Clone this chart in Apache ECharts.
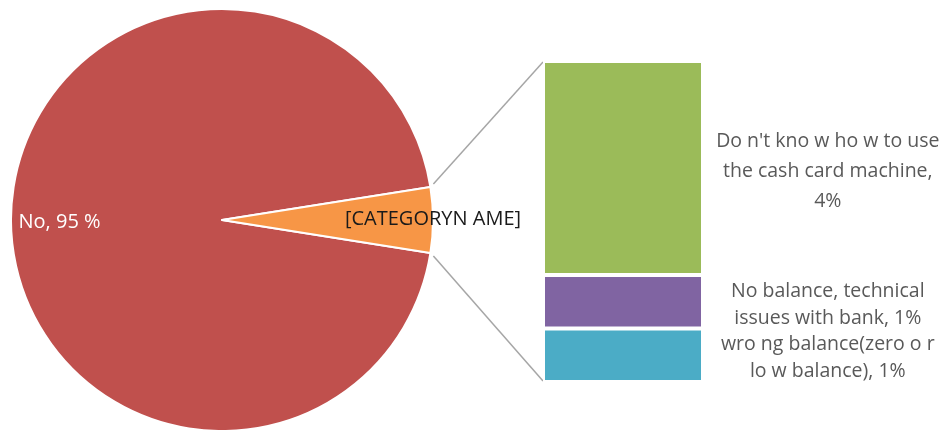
<!DOCTYPE html>
<html>
<head>
<meta charset="utf-8">
<script src="https://cdn.jsdelivr.net/npm/echarts@6/dist/echarts.min.js"></script>
<style>
  html, body { margin: 0; padding: 0; background: #ffffff; }
  #chart { width: 948px; height: 430px; }
</style>
</head>
<body>
<div id="chart"></div>
<script>
// Main pie: share of respondents
const pieNames = ['No, 95 %', '[CATEGORYN AME]'];
const pieValues = [95, 5];
const pieColors = ['#C0504D', '#F79646'];

// Breakdown of the small slice, drawn as a stacked column (bottom to top)
const barNames = ['wro ng balance(zero o r\nlo w balance), 1%',
                  'No balance, technical\nissues with bank, 1%',
                  'Do n\'t kno w ho w to use\nthe cash card machine,\n4%'];
const barValues = [1, 1, 4];
const barColors = ['#4BACC6', '#8064A2', '#9BBB59'];

const FONT = '"Open Sans", "Liberation Sans", sans-serif';
const pieCenter = [222, 220];
const pieRadius = 211;
const smallShare = pieValues[1] / pieValues.reduce((a, b) => a + b, 0);
const halfAngle = smallShare * 180;           // degrees either side of 3 o'clock
const barGrid = { left: 543, top: 61, width: 160, height: 321 };
const barTotal = barValues.reduce((a, b) => a + b, 0);

// where the pie labels sit, as fractions of the radius from the centre
const labelRadius = [-0.77, 1.0];

const chart = echarts.init(document.getElementById('chart'), null, { renderer: 'canvas' });

const option = {
  backgroundColor: '#ffffff',
  animation: false,
  grid: Object.assign({ containLabel: false }, barGrid),
  xAxis: { type: 'category', data: ['breakdown'], show: false },
  yAxis: { type: 'value', min: 0, max: barTotal, show: false },
  series: [
    {
      type: 'pie',
      center: pieCenter,
      radius: pieRadius,
      startAngle: 360 - halfAngle,
      clockwise: true,
      data: pieNames.map((n, i) => ({ name: n, value: pieValues[i], itemStyle: { color: pieColors[i] } })),
      itemStyle: { borderColor: '#ffffff', borderWidth: 2 },
      label: {
        position: 'inside',
        formatter: '{b}',
        fontFamily: FONT,
        fontSize: 20
      },
      labelLine: { show: false },
      labelLayout: function (p) {
        return {
          x: pieCenter[0] + labelRadius[p.dataIndex] * pieRadius,
          y: pieCenter[1] + (p.dataIndex === 0 ? 2 : -1),
          align: 'center',
          verticalAlign: 'middle'
        };
      },
      emphasis: { disabled: true }
    }
  ].concat(barValues.map((v, i) => ({
    type: 'bar',
    stack: 'detail',
    name: barNames[i],
    data: [v],
    barWidth: '100%',
    itemStyle: { color: barColors[i], borderColor: '#ffffff', borderWidth: 2 },
    label: {
      show: true,
      formatter: barNames[i],
      position: ['178%', '50%'],
      offset: [0, 3],
      align: 'center',
      verticalAlign: 'middle',
      color: '#595959',
      fontFamily: FONT,
      fontSize: 19.5,
      lineHeight: i === 2 ? 30 : 27
    },
    emphasis: { disabled: true }
  })))
};

// label colours for the pie slices
option.series[0].data[0].label = { color: '#ffffff' };
option.series[0].data[1].label = { color: '#1a1a1a' };

chart.setOption(option);

// Connector lines from the small slice's edges to the column's corners
const rad = halfAngle * Math.PI / 180;
const edgeTop = [pieCenter[0] + pieRadius * Math.cos(rad), pieCenter[1] - pieRadius * Math.sin(rad)];
const edgeBot = [pieCenter[0] + pieRadius * Math.cos(rad), pieCenter[1] + pieRadius * Math.sin(rad)];
const colTop = chart.convertToPixel({ gridIndex: 0 }, [0, barTotal]);
const colBot = chart.convertToPixel({ gridIndex: 0 }, [0, 0]);
const colLeft = barGrid.left;
chart.setOption({
  graphic: [
    { type: 'line', shape: { x1: edgeTop[0] + 3, y1: edgeTop[1] - 3, x2: colLeft, y2: colTop[1] + 1 },
      style: { stroke: '#A6A6A6', lineWidth: 1.5 }, silent: true },
    { type: 'line', shape: { x1: edgeBot[0] + 3, y1: edgeBot[1] + 3, x2: colLeft, y2: colBot[1] - 1 },
      style: { stroke: '#A6A6A6', lineWidth: 1.5 }, silent: true }
  ]
});
</script>
</body>
</html>
